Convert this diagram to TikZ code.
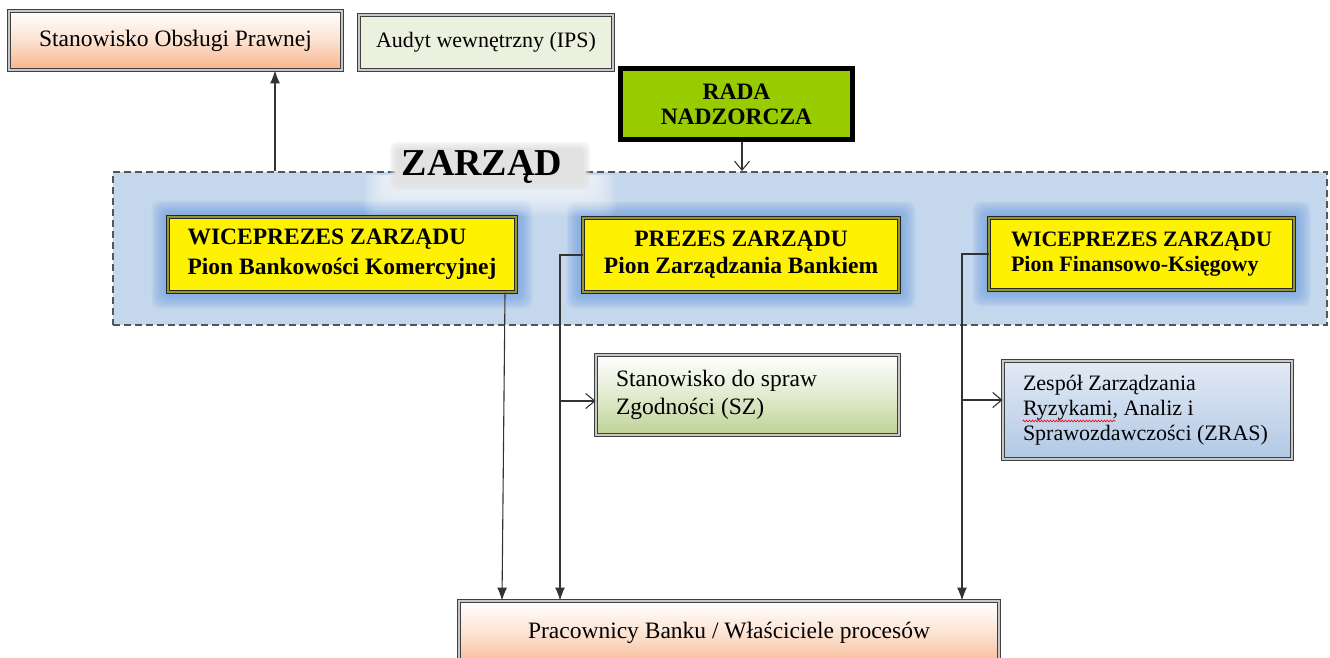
\documentclass[tikz,border=0pt]{standalone}
\usepackage{fontspec}
\setmainfont{Liberation Serif}
\usetikzlibrary{arrows.meta,decorations.pathmorphing,calc}
\definecolor{zblue}{RGB}{197,215,236}
\definecolor{glowblue}{RGB}{105,155,225}
\definecolor{peach}{RGB}{247,180,138}
\definecolor{auditgreen}{RGB}{235,241,222}
\definecolor{szgreen}{RGB}{189,210,148}
\definecolor{zrasblue}{RGB}{178,200,229}
\definecolor{zrastop}{RGB}{226,234,245}
\definecolor{radagreen}{RGB}{153,204,0}
\definecolor{olivebrd}{RGB}{150,150,45}
\definecolor{dashgray}{RGB}{85,85,85}
\definecolor{lblgray}{RGB}{226,226,226}
\pgfdeclarelayer{back}
\pgfdeclarelayer{glow}
\pgfsetlayers{back,glow,main}
\begin{document}
\begin{tikzpicture}[x=1pt,y=-1pt,
  box/.style={draw=black!75, double=black!22, line width=0.9pt, double distance=1.8pt, inner sep=0pt},
  ybox/.style={draw=black!85, double=olivebrd, line width=1pt, double distance=2.2pt, fill=yellow, inner sep=0pt},
  rtext/.style={font=\fontsize{23.5}{28}\selectfont},
  btext/.style={font=\fontsize{23.5}{30}\selectfont\bfseries},
  conn/.style={draw=black!80, line width=1.1pt},
  filltip/.style={-{Latex[length=13pt,width=10pt]}},
  opentip/.style={-{Straight Barb[length=9pt,width=15pt,line width=1.1pt]}},
  zbox/.style={fill=zblue, draw=dashgray, line width=2pt, dash pattern=on 7pt off 4pt, inner sep=0pt}
]
\useasboundingbox (0,0) rectangle (1330,657);

% ZARZAD frame
\begin{pgfonlayer}{back}
\fill[white] (0,0) rectangle (1330,657);
\node[zbox, minimum width=1214, minimum height=153] (zarzad) at (720,248.5) {};
\end{pgfonlayer}

% label backing with soft glow
\begin{scope}
\clip (100,175) rectangle (720,330);
\foreach \i in {1,...,12}{
  \fill[white, opacity=0.09, rounded corners=10pt] (390-2.2*\i,142-2.2*\i) rectangle (590+2.2*\i,190+2.2*\i);
}
\end{scope}
\foreach \i in {0,...,3}{
  \fill[lblgray, opacity=0.3, rounded corners=7pt] (390+1.5*\i,142+1.5*\i) rectangle (590-1.5*\i,190-1.5*\i);
}
\fill[lblgray, rounded corners=5pt] (396,148) rectangle (584,184);
\node[font=\fontsize{38}{40}\selectfont\bfseries, inner sep=0pt] (zlabel) at (482,167) {ZARZĄD};

% top boxes
\node[box, rtext, top color=white, bottom color=peach, middle color=peach!40!white,
      minimum width=333, minimum height=59] (sop) at (175.5,40.5) {Stanowisko Obsługi Prawnej};
\node[box, font=\fontsize{22}{26}\selectfont, fill=auditgreen,
      minimum width=254, minimum height=55] (audyt) at (486,42.5) {Audyt wewnętrzny (IPS)};
\node[draw=black, line width=5pt, fill=radagreen, inner sep=0pt, align=center,
      font=\fontsize{23.5}{25}\selectfont\bfseries,
      minimum width=232, minimum height=71] (rada) at (736.5,104) {RADA\\NADZORCZA};

% board members
\node[ybox, btext, align=left, minimum width=348, minimum height=75] (wp1) at (342,254.5)
  {WICEPREZES ZARZĄDU\\Pion Bankowości Komercyjnej};
\node[ybox, font=\fontsize{23.5}{27}\selectfont\bfseries, align=center, minimum width=316, minimum height=74] (prezes) at (741,255)
  {PREZES ZARZĄDU\\Pion Zarządzania Bankiem};
\node[ybox, font=\fontsize{22}{25}\selectfont\bfseries, align=left, minimum width=305, minimum height=72] (wp3) at (1141.5,254)
  {WICEPREZES ZARZĄDU\\Pion Finansowo-Księgowy};

\begin{pgfonlayer}{glow}
\foreach \n in {wp1,prezes,wp3}{
  \foreach \i in {1,...,10}{
    \fill[glowblue, opacity=0.1, rounded corners=8pt] ($(\n.north west)+(-1.6*\i,-1.6*\i)$) rectangle ($(\n.south east)+(1.6*\i,1.6*\i)$);
  }
}
\end{pgfonlayer}

% lower boxes
\node[box, rtext, top color=white, bottom color=szgreen, middle color=szgreen!45!white,
      inner xsep=20pt, inner ysep=0pt, minimum width=303, minimum height=80] (sz) at (747.5,395)
  {\makebox[263pt][l]{\begin{tabular}{@{}l@{}}Stanowisko do spraw\\Zgodności (SZ)\end{tabular}}};
\node[box, font=\fontsize{22}{25}\selectfont, top color=zrastop, bottom color=zrasblue,
      inner xsep=20pt, inner ysep=0pt, minimum width=289, minimum height=98] (zras) at (1147.5,410)
  {\makebox[249pt][l]{\begin{tabular}{@{}l@{}}Zespół Zarządzania\\Ryzykami, Analiz i\\Sprawozdawczości (ZRAS)\end{tabular}}};
\draw[red, line width=0.6pt, decorate, decoration={snake, amplitude=0.9pt, segment length=3pt}]
  ($(zras.west)+(20,11)$) -- ++(93,0);

\node[box, rtext, top color=white, bottom color=peach, middle color=peach!40!white,
      minimum width=540, minimum height=68] (prac) at (729,635)
  {\raisebox{9pt}{Pracownicy Banku / Właściciele procesów}};

% connectors
\coordinate (xsop) at (275,0);
\coordinate (xrada) at (742,0);
\coordinate (xwp1a) at (505,0);
\coordinate (xwp1b) at (502,0);
\coordinate (xpre) at (560,0);
\coordinate (xwp3) at (962,0);
\coordinate (jsz) at (560,401);
\coordinate (jzr) at (962,400);

\draw[conn, filltip] (zarzad.north -| xsop) -- (sop.south -| xsop);
\draw[conn, opentip] (rada.south -| xrada) -- (zarzad.north -| xrada);
\draw[conn, filltip] (wp1.south -| xwp1a) -- (prac.north -| xwp1b);
\draw[conn, filltip] (prezes.west) -| (prac.north -| xpre);
\draw[conn, opentip] (jsz) -- (jsz -| sz.west);
\draw[conn, filltip] (wp3.west) -| (prac.north -| xwp3);
\draw[conn, opentip] (jzr) -- (jzr -| zras.west);
\end{tikzpicture}
\end{document}
